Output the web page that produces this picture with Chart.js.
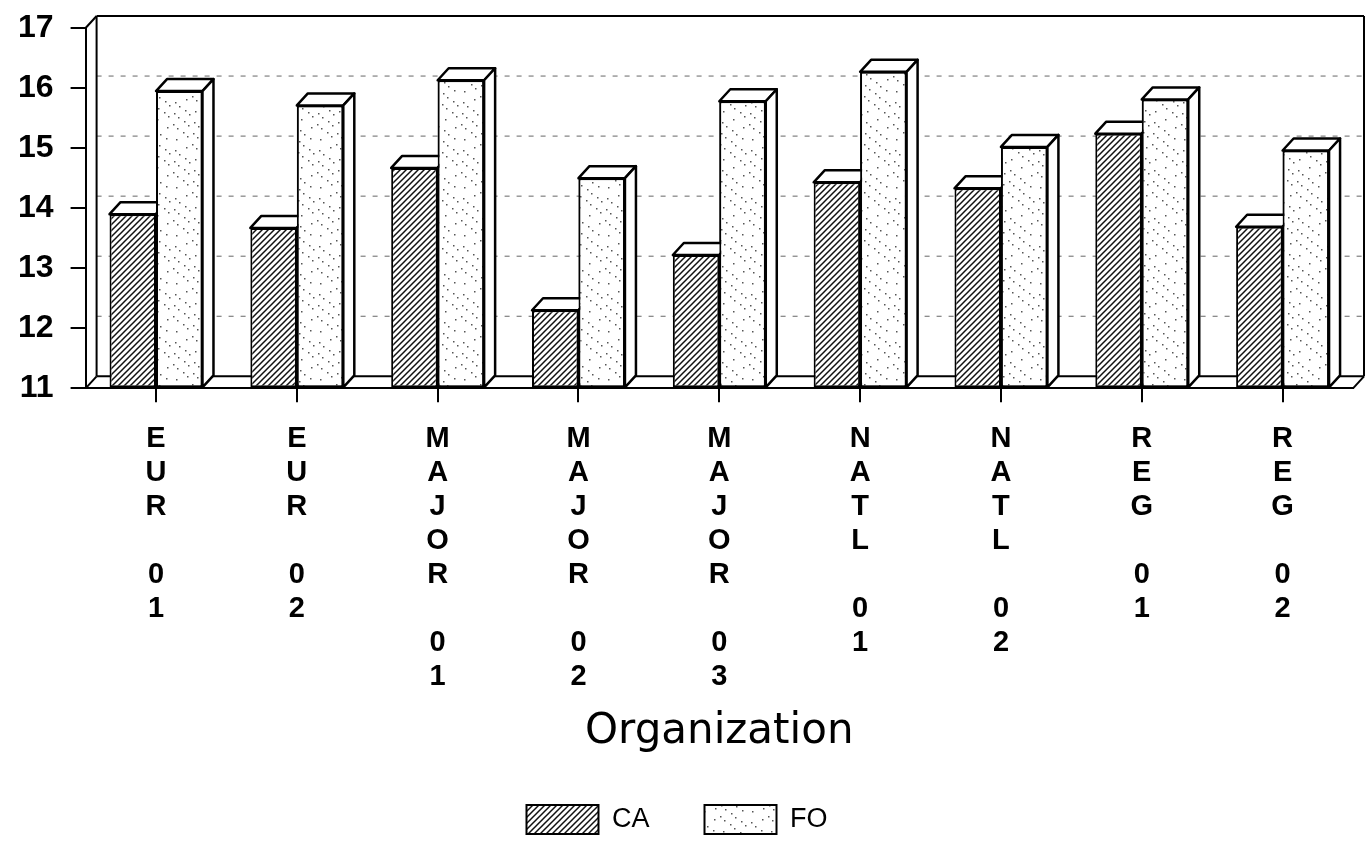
<!DOCTYPE html>
<html>
<head>
<meta charset="utf-8">
<script src="https://cdn.jsdelivr.net/npm/chart.js@4.4.1/dist/chart.umd.min.js"></script>
<style>
  html, body { margin: 0; padding: 0; background: #fff; }
  #wrap { width: 1366px; height: 851px; }
</style>
</head>
<body>
<div id="wrap"><canvas id="orgChart"></canvas></div>
<script>
const organizations = ["EUR 01", "EUR 02", "MAJOR 01", "MAJOR 02", "MAJOR 03", "NATL 01", "NATL 02", "REG 01", "REG 02"];
const caValues = [13.9, 13.67, 14.67, 12.3, 13.22, 14.43, 14.33, 15.24, 13.69];
const foValues = [15.95, 15.71, 16.13, 14.5, 15.78, 16.27, 15.02, 15.81, 14.96];
const yMin = 11;
const yMax = 17;

// depth offset of the fake 3D boxes
const DX = 11;
const DY = -12;

Chart.defaults.font.family = '"Liberation Sans", Arial, sans-serif';
Chart.defaults.color = "#000";

function hatchPattern() {
  const c = document.createElement("canvas");
  c.width = 6;
  c.height = 6;
  const g = c.getContext("2d");
  g.fillStyle = "#fff";
  g.fillRect(0, 0, 6, 6);
  g.strokeStyle = "#111";
  g.lineWidth = 1.5;
  g.beginPath();
  g.moveTo(0, 6); g.lineTo(6, 0);
  g.moveTo(-3, 3); g.lineTo(3, -3);
  g.moveTo(3, 9); g.lineTo(9, 3);
  g.stroke();
  return g.createPattern(c, "repeat");
}

function stipplePattern() {
  const n = 48;
  const c = document.createElement("canvas");
  c.width = n;
  c.height = n;
  const g = c.getContext("2d");
  g.fillStyle = "#fff";
  g.fillRect(0, 0, n, n);
  g.fillStyle = "#555";
  for (let k = 0; k < 34; k++) {
    const x = (k * 29) % n;
    const y = (k * 17 + (k % 5) * 11) % n;
    g.fillRect(x, y, 1.5, 1.5);
  }
  return g.createPattern(c, "repeat");
}

function line(ctx, x1, y1, x2, y2) {
  ctx.beginPath();
  ctx.moveTo(x1, y1);
  ctx.lineTo(x2, y2);
  ctx.stroke();
}

function drawFaces(ctx, bar) {
  const half = bar.width / 2;
  const xl = bar.x - half;
  const xr = bar.x + half;
  const yt = bar.y;
  const yb = bar.base;
  ctx.fillStyle = "#fff";
  ctx.strokeStyle = "#000";
  ctx.lineWidth = 2.5;
  ctx.lineJoin = "round";
  // top face
  ctx.beginPath();
  ctx.moveTo(xl, yt);
  ctx.lineTo(xl + DX, yt + DY);
  ctx.lineTo(xr + DX, yt + DY);
  ctx.lineTo(xr, yt);
  ctx.closePath();
  ctx.fill();
  ctx.stroke();
  // side face
  ctx.beginPath();
  ctx.moveTo(xr, yt);
  ctx.lineTo(xr + DX, yt + DY);
  ctx.lineTo(xr + DX, yb + DY);
  ctx.lineTo(xr, yb);
  ctx.closePath();
  ctx.fill();
  ctx.stroke();
}

const box3d = {
  id: "box3d",
  beforeDatasetsDraw(chart) {
    const { ctx, chartArea: a, scales: { y } } = chart;
    ctx.save();
    // dashed grid on the back wall
    ctx.strokeStyle = "#666";
    ctx.lineWidth = 1;
    ctx.setLineDash([5, 7]);
    y.ticks.forEach((t) => {
      if (t.value > yMin && t.value < yMax) {
        const py = y.getPixelForValue(t.value) + DY;
        line(ctx, a.left + DX, py, a.right + DX, py);
      }
    });
    ctx.setLineDash([]);
    ctx.strokeStyle = "#000";
    ctx.lineWidth = 2;
    // back wall, left wall and floor edges
    line(ctx, a.left + DX, a.top + DY, a.right + DX, a.top + DY);
    line(ctx, a.right + DX, a.top + DY, a.right + DX, a.bottom + DY);
    line(ctx, a.left + DX, a.top + DY, a.left + DX, a.bottom + DY);
    line(ctx, a.left, a.top, a.left + DX, a.top + DY);
    line(ctx, a.left, a.bottom, a.left + DX, a.bottom + DY);
    line(ctx, a.left + DX, a.bottom + DY, a.right + DX, a.bottom + DY);
    line(ctx, a.right, a.bottom, a.right + DX, a.bottom + DY);
    ctx.restore();
  },
  afterDatasetsDraw(chart) {
    const { ctx } = chart;
    const caMeta = chart.getDatasetMeta(0);
    const foMeta = chart.getDatasetMeta(1);
    ctx.save();
    caMeta.data.forEach((bar, i) => {
      drawFaces(ctx, bar);
      // FO sits in front of the CA top face, so paint it again
      foMeta.data[i].draw(ctx);
      drawFaces(ctx, foMeta.data[i]);
    });
    ctx.restore();
  },
};

const ctx = document.getElementById("orgChart").getContext("2d");

new Chart(ctx, {
  type: "bar",
  data: {
    labels: organizations.map((o) => o.split("")),
    datasets: [
      {
        label: "CA",
        data: caValues,
        base: yMin,
        backgroundColor: hatchPattern(),
        borderColor: "#000",
        borderWidth: 2,
        borderSkipped: false,
      },
      {
        label: "FO",
        data: foValues,
        base: yMin,
        backgroundColor: stipplePattern(),
        borderColor: "#000",
        borderWidth: 2,
        borderSkipped: false,
      },
    ],
  },
  options: {
    responsive: true,
    maintainAspectRatio: false,
    animation: false,
    events: [],
    categoryPercentage: 0.66,
    barPercentage: 1.0,
    layout: {
      padding: { left: 1, right: 13, top: 28, bottom: 7 },
    },
    scales: {
      x: {
        grid: {
          offset: false,
          drawOnChartArea: false,
          tickLength: 14,
          color: "#000",
          lineWidth: 2,
        },
        border: { color: "#000", width: 2 },
        ticks: {
          autoSkip: false,
          maxRotation: 0,
          minRotation: 0,
          padding: 20,
          font: { size: 29, weight: "bold", lineHeight: 1.1724 },
        },
        title: {
          display: true,
          text: "Organization",
          font: { family: '"DejaVu Sans", sans-serif', size: 42, lineHeight: 0.85 },
          padding: { top: 0, bottom: 0 },
        },
      },
      y: {
        min: yMin,
        max: yMax,
        afterFit(scale) {
          // the top label may overhang the plot; keep the plot top at the layout padding
          scale.paddingTop = 0;
        },
        grid: {
          drawOnChartArea: false,
          tickLength: 15,
          color: "#000",
          lineWidth: 2,
        },
        border: { color: "#000", width: 2 },
        ticks: {
          stepSize: 1,
          padding: 17,
          font: { size: 32, weight: "bold" },
        },
      },
    },
    plugins: {
      legend: {
        position: "bottom",
        labels: {
          boxWidth: 72,
          boxHeight: 29,
          padding: 55,
          font: { size: 27 },
        },
      },
      tooltip: { enabled: false },
    },
  },
  plugins: [box3d],
});
</script>
</body>
</html>
